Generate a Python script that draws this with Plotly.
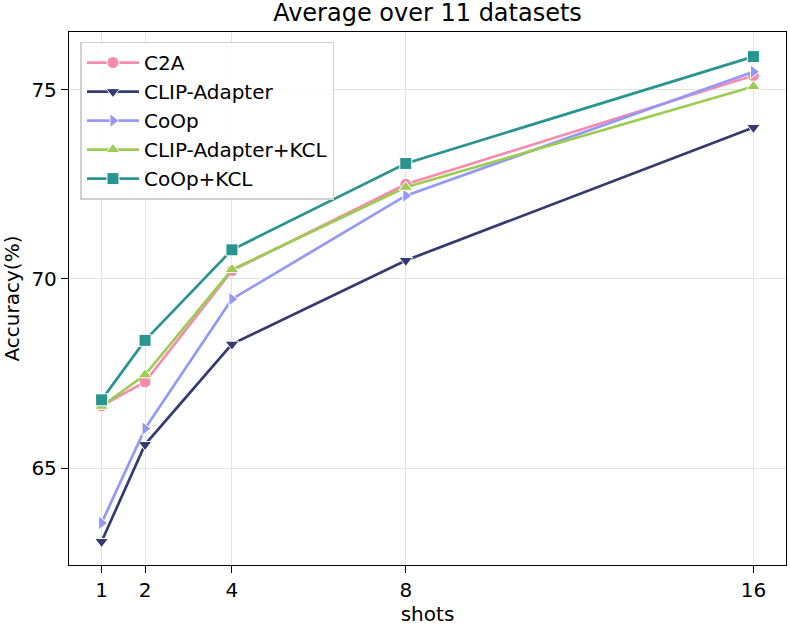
import plotly.graph_objects as go

shots = [1, 2, 4, 8, 16]
c2a = [66.65, 67.28, 70.22, 72.50, 75.37]
clip_adapter = [63.07, 65.63, 68.28, 70.49, 74.00]
coop = [63.56, 66.05, 69.47, 72.20, 75.47]
clip_adapter_kcl = [66.64, 67.47, 70.25, 72.42, 75.08]
coop_kcl = [66.81, 68.38, 70.77, 73.05, 75.87]

series = [
    ("C2A", c2a, "#F98AB0", "circle"),
    ("CLIP-Adapter", clip_adapter, "#343B70", "triangle-down"),
    ("CoOp", coop, "#9499F5", "triangle-right"),
    ("CLIP-Adapter+KCL", clip_adapter_kcl, "#9ACD50", "triangle-up"),
    ("CoOp+KCL", coop_kcl, "#2A9490", "square"),
]

fig = go.Figure()
for name, vals, color, sym in series:
    fig.add_trace(go.Scatter(
        x=shots, y=vals, name=name, mode="lines+markers",
        line=dict(color=color, width=2.7),
        marker=dict(symbol=sym, size=12, color=color, line=dict(color="white", width=1)),
    ))

font = "DejaVu Sans, sans-serif"
fig.update_layout(
    width=790, height=626,
    margin=dict(l=69, r=4, t=32, b=61, autoexpand=False),
    paper_bgcolor="white", plot_bgcolor="white",
    font=dict(family=font, size=20, color="black"),
    title=dict(text="Average over 11 datasets", x=0.5, xref="paper", xanchor="center",
               yref="container", y=0.994, yanchor="top", font=dict(size=24)),
    showlegend=True,
    legend=dict(x=0.016, y=0.982, xanchor="left", yanchor="top",
                bgcolor="rgba(255,255,255,0.85)", bordercolor="#d0d0d0", borderwidth=1.5,
                font=dict(size=20), itemwidth=52, tracegroupgap=0),
    xaxis=dict(
        range=[0.25, 16.75], tickvals=shots, ticktext=[str(s) for s in shots],
        showgrid=True, gridcolor="#e3e3e3", gridwidth=1.2,
        showline=True, linecolor="black", linewidth=1.3, mirror=True,
        ticks="outside", ticklen=7, tickcolor="black", zeroline=False,
        title=dict(text="shots", standoff=0, font=dict(size=20)),
        tickfont=dict(size=20), automargin=False,
    ),
    yaxis=dict(
        range=[62.45, 76.52], tickvals=[65, 70, 75],
        showgrid=True, gridcolor="#e3e3e3", gridwidth=1.2,
        showline=True, linecolor="black", linewidth=1.3, mirror=True,
        ticks="outside", ticklen=7, tickcolor="black", zeroline=False,
        title=dict(text="Accuracy(%)", standoff=7, font=dict(size=20)),
        tickfont=dict(size=20), automargin=False,
    ),
)

fig.write_html("out.html", config={"displayModeBar": False},
               post_script="document.body.style.margin='0';")
